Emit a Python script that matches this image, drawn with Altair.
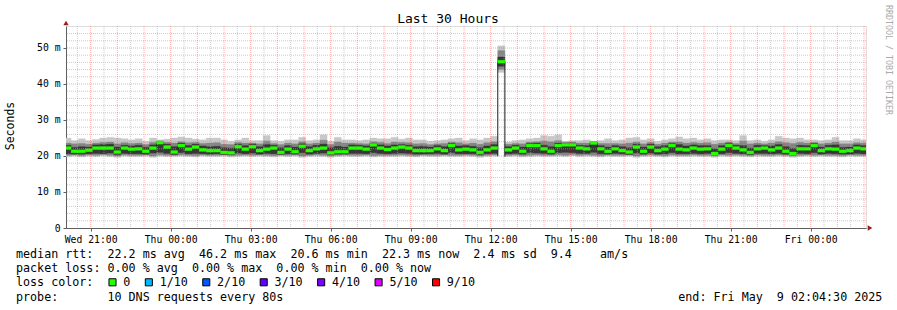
import altair as alt
import pandas as pd

FONT = "DejaVu Sans Mono"
NB = "\u00a0"

# ---- time layout (hours since Wed 00:00) ----
BIN_ORIGIN = 20.0          # Wed 20:00, bins of 16 min
BIN_HOURS = 16 / 60
X_START = 20 + 4.5 / 60    # Wed 20:04:30
X_END = X_START + 30       # Fri 02:04:30
Y_MAX = 56.11

# ---- data (ms) ----
med = [22.2, 21.3, 21.3, 21.6, 22.2, 22.2, 22.2, 21.1, 22.2, 21.9, 22.0, 21.3, 22.2, 23.7, 22.5, 21.1, 22.9, 21.9, 22.5, 21.7, 21.5, 21.5, 21.0,
       20.9, 22.6, 21.9, 22.6, 21.5, 21.9, 22.2, 21.0, 21.9, 21.2, 22.7, 21.5, 22.0, 22.2, 20.9, 21.2, 21.2, 22.2, 22.2, 21.9, 23.1, 22.2, 21.8,
       22.2, 22.5, 22.2, 21.5, 21.5, 21.5, 22.0, 21.5, 22.9, 21.7, 21.9, 21.7, 21.0, 21.7, 22.2,
       46.2,
       21.7, 22.2, 21.3, 22.9, 22.9, 22.0,
       21.3, 22.9, 23.1, 23.1, 22.2, 22.0, 23.6, 22.0, 21.3, 22.0, 21.5, 21.1, 22.5, 21.3, 22.5, 21.5, 21.9, 22.9, 21.9, 21.7, 22.2, 21.9,
       22.0, 20.7, 21.9, 22.9, 22.2, 21.7, 21.0, 22.0, 22.2, 21.7, 22.2, 21.3, 20.7, 22.0, 22.0, 22.9, 21.5, 22.0, 21.9, 21.3, 21.5, 22.2, 22.0]

smoke_max = [25.0, 24.3, 24.8, 24.3, 24.6, 25.0, 25.2, 25.0, 24.8, 24.5, 24.8, 24.1, 25.0, 24.5, 24.7, 25.0, 25.3, 25.0, 24.7, 24.5, 25.0, 25.0, 24.5,
             24.1, 24.5, 25.0, 24.3, 24.3, 25.7, 24.3, 24.1, 24.5, 24.5, 25.2, 24.3, 24.5, 25.9, 24.1, 25.2, 24.5, 24.5, 24.3, 24.5, 25.0, 24.8, 24.8,
             25.2, 24.7, 25.0, 24.5, 24.5, 24.1, 24.3, 24.5, 24.8, 25.0, 24.3, 24.8, 24.5, 25.0, 25.5,
             50.6,
             23.9, 24.3, 24.5, 24.8, 25.0, 25.7,
             25.5, 25.9, 24.1, 24.3, 24.3, 24.5, 24.1, 24.3, 24.8, 24.3, 24.5, 25.0, 25.2, 24.5, 24.8, 24.1, 24.5, 24.8, 25.3, 24.8, 25.0, 24.5,
             24.8, 24.3, 24.5, 24.5, 24.3, 25.7, 24.3, 24.5, 24.1, 24.5, 25.5, 25.0, 24.8, 25.0, 24.5, 24.5, 24.3, 24.5, 25.2, 24.3, 24.3, 24.8, 24.5]

smoke_min = [19.8, 19.9, 19.7, 19.9, 19.8, 20.0, 19.8, 19.6, 19.9, 19.8, 19.8, 19.9, 19.6, 19.9, 19.8, 19.8, 19.9, 19.8, 19.7, 19.9, 19.8, 19.8, 19.9,
             19.7, 19.8, 19.9, 19.8, 19.9, 19.8, 19.7, 19.9, 19.8, 19.9, 19.6, 19.8, 19.9, 19.8, 19.6, 19.8, 19.9, 19.8, 19.8, 19.9, 19.7, 19.8, 19.8,
             19.8, 19.9, 19.8, 19.7, 19.9, 19.8, 19.8, 19.9, 19.8, 19.8, 19.9, 19.8, 19.6, 19.8, 19.9,
             43.2,
             19.8, 19.9, 19.7, 19.8, 19.9, 19.8,
             19.8, 19.9, 19.8, 20.0, 19.8, 19.9, 19.8, 19.7, 19.9, 19.8, 19.8, 19.9, 19.6, 19.8, 19.9, 19.8, 19.7, 19.9, 19.8, 19.8, 19.9, 19.8,
             19.8, 19.6, 19.9, 19.8, 19.9, 19.8, 19.7, 19.9, 19.8, 19.8, 19.9, 19.8, 19.6, 19.8, 19.9, 19.8, 19.9, 19.8, 19.8, 19.7, 19.9, 19.8, 19.8]

mid_lo = [20.2, 20.3, 20.1, 20.3, 20.2, 20.4, 20.2, 20.0, 20.3, 20.2, 20.2, 20.3, 20.0, 20.3, 20.2, 20.2, 20.3, 20.2, 20.1, 20.3, 20.2, 20.2, 20.3,
          20.1, 20.2, 20.3, 20.2, 20.3, 20.2, 20.1, 20.3, 20.2, 20.3, 20.0, 20.2, 20.3, 20.2, 20.0, 20.2, 20.3, 20.2, 20.2, 20.3, 20.1, 20.2, 20.2,
          20.2, 20.3, 20.2, 20.1, 20.3, 20.2, 20.2, 20.3, 20.2, 20.2, 20.3, 20.2, 20.0, 20.2, 20.3,
          44.0,
          20.2, 20.3, 20.1, 20.2, 20.3, 20.2,
          20.2, 20.3, 20.2, 20.4, 20.2, 20.3, 20.2, 20.1, 20.3, 20.2, 20.2, 20.3, 20.0, 20.2, 20.3, 20.2, 20.1, 20.3, 20.2, 20.2, 20.3, 20.2,
          20.2, 20.0, 20.3, 20.2, 20.3, 20.2, 20.1, 20.3, 20.2, 20.2, 20.3, 20.2, 20.0, 20.2, 20.3, 20.2, 20.3, 20.2, 20.2, 20.1, 20.3, 20.2, 20.2]

mid_hi = [23.6, 23.4, 23.5, 23.3, 23.6, 23.8, 23.9, 23.4, 23.7, 23.5, 23.6, 23.2, 23.8, 24.2, 23.8, 23.6, 24.0, 23.7, 23.8, 23.5, 23.6, 23.7, 23.3,
          23.2, 23.8, 23.6, 23.6, 23.4, 24.2, 23.5, 23.2, 23.6, 23.4, 24.0, 23.4, 23.6, 24.4, 23.2, 23.9, 23.6, 23.6, 23.5, 23.4, 24.0, 23.8, 23.5,
          23.9, 23.8, 23.7, 23.4, 23.5, 23.2, 23.4, 23.5, 23.9, 23.7, 23.4, 23.6, 23.3, 23.7, 24.0,
          49.3,
          23.3, 23.5, 23.4, 23.9, 24.0, 24.2,
          24.0, 24.3, 23.8, 23.9, 23.6, 23.6, 24.0, 23.5, 23.5, 23.5, 23.4, 23.6, 23.9, 23.4, 23.8, 23.3, 23.6, 23.9, 23.9, 23.6, 23.8, 23.6,
          23.7, 23.3, 23.6, 23.9, 23.5, 24.2, 23.4, 23.6, 23.4, 23.6, 24.0, 23.7, 23.5, 23.8, 23.6, 23.8, 23.4, 23.6, 23.9, 23.4, 23.4, 23.7, 23.6]

core_lo = [20.6, 20.5, 20.5, 20.6, 20.7, 20.6, 20.8, 20.4, 20.7, 20.6, 20.6, 20.5, 20.8, 21.0, 20.7, 20.4, 20.9, 20.6, 20.7, 20.6, 20.5, 20.6, 20.4,
           20.4, 20.8, 20.6, 20.8, 20.5, 20.7, 20.6, 20.4, 20.6, 20.5, 20.9, 20.5, 20.7, 20.8, 20.4, 20.5, 20.5, 20.7, 20.7, 20.6, 20.9, 20.7, 20.6,
           20.7, 20.8, 20.7, 20.5, 20.5, 20.6, 20.7, 20.5, 20.9, 20.6, 20.6, 20.6, 20.4, 20.6, 20.7,
           44.9,
           20.6, 20.7, 20.5, 20.9, 20.8, 20.7,
           20.5, 20.9, 21.0, 20.9, 20.7, 20.7, 21.0, 20.6, 20.5, 20.7, 20.6, 20.4, 20.8, 20.5, 20.8, 20.5, 20.6, 20.9, 20.6, 20.6, 20.7, 20.6,
           20.7, 20.4, 20.6, 20.9, 20.7, 20.6, 20.4, 20.7, 20.7, 20.6, 20.7, 20.5, 20.4, 20.7, 20.6, 20.9, 20.5, 20.7, 20.6, 20.5, 20.5, 20.7, 20.6]

core_hi = [23.0, 22.4, 22.6, 22.5, 23.1, 23.2, 23.3, 22.5, 23.0, 22.8, 23.0, 22.4, 23.1, 24.0, 23.3, 22.6, 23.6, 22.9, 23.3, 22.8, 22.6, 22.7, 22.3,
           22.2, 23.3, 22.9, 23.3, 22.6, 23.2, 23.0, 22.3, 22.9, 22.5, 23.4, 22.6, 23.0, 23.3, 22.3, 22.7, 22.5, 23.1, 23.0, 22.8, 23.6, 23.1, 22.8,
           23.1, 23.2, 23.0, 22.6, 22.7, 22.5, 22.9, 22.6, 23.5, 22.8, 22.9, 22.7, 22.3, 22.8, 23.2,
           47.5,
           22.6, 23.0, 22.5, 23.5, 23.6, 23.0,
           22.6, 23.6, 23.6, 23.6, 23.0, 22.9, 23.9, 22.9, 22.5, 22.9, 22.6, 22.3, 23.3, 22.5, 23.3, 22.6, 22.9, 23.5, 23.2, 22.8, 23.1, 22.9,
           22.9, 22.0, 22.9, 23.5, 23.0, 22.9, 22.2, 23.0, 22.9, 22.8, 23.2, 22.6, 22.1, 23.0, 22.9, 23.5, 22.5, 23.0, 23.1, 22.4, 22.5, 23.1, 22.9]

x_tick_hours = [21, 24, 27, 30, 33, 36, 39, 42, 45, 48]
y_tick_ms = [0, 10, 20, 30, 40, 50]

stats_line = "median rtt:  22.2 ms avg  46.2 ms max  20.6 ms min  22.3 ms now  2.4 ms sd  9.4    am/s"
loss_line = "packet loss: 0.00 % avg  0.00 % max  0.00 % min  0.00 % now"
probe_line = "probe:       10 DNS requests every 80s"
end_line = "end: Fri May  9 02:04:30 2025"
loss_labels = ["0", "1/10", "2/10", "3/10", "4/10", "5/10", "9/10"]
loss_colors = ["#26ff00", "#00b8ff", "#0059ff", "#5e00ff", "#7e00ff", "#dd00ff", "#ff0000"]

# ---- build tables ----
n = min(len(med), len(smoke_max), len(smoke_min), len(mid_lo), len(mid_hi), len(core_lo), len(core_hi))
rows = []
for k in range(n):
    rows.append(dict(t0=BIN_ORIGIN + k * BIN_HOURS, t1=BIN_ORIGIN + (k + 1) * BIN_HOURS,
                     mn=smoke_min[k], mx=smoke_max[k], blo=mid_lo[k], bhi=mid_hi[k],
                     clo=core_lo[k], chi=core_hi[k], glo=med[k] - 0.42, ghi=med[k] + 0.42))
df = pd.DataFrame(rows)

trans = []
for k in range(1, n):
    a, b = med[k - 1], med[k]
    lo, hi = min(a, b), max(a, b)
    if hi - lo > 10:
        lo = min(smoke_min[k - 1], smoke_min[k])
    trans.append(dict(t=BIN_ORIGIN + k * BIN_HOURS, lo=lo, hi=hi))
tdf = pd.DataFrame(trans)

hour_grid = pd.DataFrame({"t": [h for h in range(21, 51)]})
half_grid = pd.DataFrame({"t": [h + 0.5 for h in range(20, 50)]})
ms_major = pd.DataFrame({"v": [10, 20, 30, 40, 50]})
ms_minor = pd.DataFrame({"v": [v for v in range(2, 56, 2) if v % 10 != 0]})

xs = alt.Scale(domain=[X_START, X_END], nice=False, zero=False)
ys = alt.Scale(domain=[0, Y_MAX], nice=False, zero=True)

label_expr_x = ("['Wed','Thu','Fri'][floor(datum.value/24)] + ' ' + "
                "((datum.value % 24) < 10 ? '0' : '') + (datum.value % 24) + ':00'")

XAX = alt.Axis(values=x_tick_hours, labelExpr=label_expr_x, title=None, grid=False,
               domainColor="#606060", tickColor="#606060", tickSize=3, labelPadding=3,
               labelFont=FONT, labelFontSize=9.75, labelColor="#000000", labelFlush=False)
YAX = alt.Axis(values=y_tick_ms, labelExpr="datum.value == 0 ? '0' : datum.value + ' m'",
               title=None, grid=False, domainColor="#606060", tickColor="#606060",
               tickSize=3, labelPadding=3, labelFont=FONT, labelFontSize=9.75,
               labelColor="#000000")


def X(field):
    return alt.X(field, scale=xs, axis=XAX, title=None)


def Y(field):
    return alt.Y(field, scale=ys, axis=YAX, title=None)


def band(lo, hi, color):
    return alt.Chart(df).mark_rect(clip=True, color=color, stroke=color, strokeWidth=0.3).encode(
        x=X("t0:Q"), x2="t1:Q", y=Y(f"{lo}:Q"), y2=f"{hi}:Q")


smoke_a = band("mn", "mx", "#c8c8c8")
smoke_b = band("blo", "bhi", "#858585")
smoke_c = band("clo", "chi", "#363636")

grid_minor_v = alt.Chart(half_grid).mark_rule(color="#a8a8a8", opacity=0.6, strokeDash=[1, 1], strokeWidth=1).encode(
    x=X("t:Q"))
grid_major_v = alt.Chart(hour_grid).mark_rule(color="#ff0000", opacity=0.33, strokeDash=[1, 1], strokeWidth=1).encode(
    x=X("t:Q"))
grid_minor_h = alt.Chart(ms_minor).mark_rule(color="#a8a8a8", opacity=0.6, strokeDash=[1, 1], strokeWidth=1).encode(
    y=Y("v:Q"))
grid_major_h = alt.Chart(ms_major).mark_rule(color="#ff0000", opacity=0.33, strokeDash=[1, 1], strokeWidth=1).encode(
    y=Y("v:Q"))

steps = alt.Chart(tdf).mark_rule(color="#202020", strokeWidth=1, clip=True).encode(
    x=X("t:Q"), y=Y("lo:Q"), y2="hi:Q")

green = alt.Chart(df).mark_rect(clip=True, color="#26ff00", stroke="#26ff00", strokeWidth=0.3).encode(
    x=X("t0:Q"), x2="t1:Q", y=Y("glo:Q"), y2="ghi:Q")

one = pd.DataFrame({"a": [0]})
arrow_x = alt.Chart(one).mark_point(shape="triangle-right", filled=True, color="#9b1c1c", size=28, opacity=1, xOffset=4).encode(
    x=alt.XDatum(X_END, scale=xs, axis=XAX, title=None), y=alt.YDatum(0, scale=ys, axis=YAX, title=None))
arrow_y = alt.Chart(one).mark_point(shape="triangle-up", filled=True, color="#9b1c1c", size=28, opacity=1, yOffset=-3).encode(
    x=alt.XDatum(X_START, scale=xs, axis=XAX, title=None), y=alt.YDatum(Y_MAX, scale=ys, axis=YAX, title=None))


def text(s, x, y, size=11.69, align="left", color="#000000", angle=0):
    return alt.Chart(pd.DataFrame({"s": [s.replace(" ", NB)]})).mark_text(
        font=FONT, fontSize=size, align=align, baseline="middle", color=color, angle=angle).encode(
        text="s:N", x=alt.value(x), y=alt.value(y))


# positions relative to plot origin (66, 26)
title = text("Last 30 Hours", 382, -7, size=13, align="center")
ytitle = text("Seconds", -55, 100, size=11.5, align="center", angle=270)
rrd = text("RRDTOOL / TOBI OETIKER", 821.5, 34, size=8.3, align="center", color="#aaaaaa", angle=90)
t1 = text(stats_line, -50, 228)
t2 = text(loss_line, -50, 242.3)
t3 = text("loss color:", -50, 256.3)
t4 = text(probe_line, -50, 270.7)
t5 = text(end_line, 612.3, 270.7)

# loss colour boxes and labels
CW = 7.035
bx = 109 - 66
legend_layers = []
for lab, col in zip(loss_labels, loss_colors):
    sq = alt.Chart(one).mark_square(size=50, opacity=1, fill=col, stroke="#000000", strokeWidth=1).encode(
        x=alt.value(bx + 3.5), y=alt.value(256.3))
    legend_layers.append(sq)
    legend_layers.append(text(lab, bx + 14.3, 256.3))
    bx = bx + 14.3 + len(lab) * CW + 15.0

chart = alt.layer(
    smoke_a, smoke_b, smoke_c,
    grid_minor_v, grid_minor_h, grid_major_v, grid_major_h,
    steps, green, arrow_x, arrow_y,
    title, ytitle, rrd, t1, t2, t3, t4, t5, *legend_layers,
).properties(
    width=800, height=202,
    padding={"left": 66, "top": 26, "right": 31, "bottom": 82},
    autosize=alt.AutoSizeParams(type="none"),
).configure_view(strokeWidth=0).configure(background="#ffffff")

chart.save("out.html", embed_options={"renderer": "svg", "actions": False})
